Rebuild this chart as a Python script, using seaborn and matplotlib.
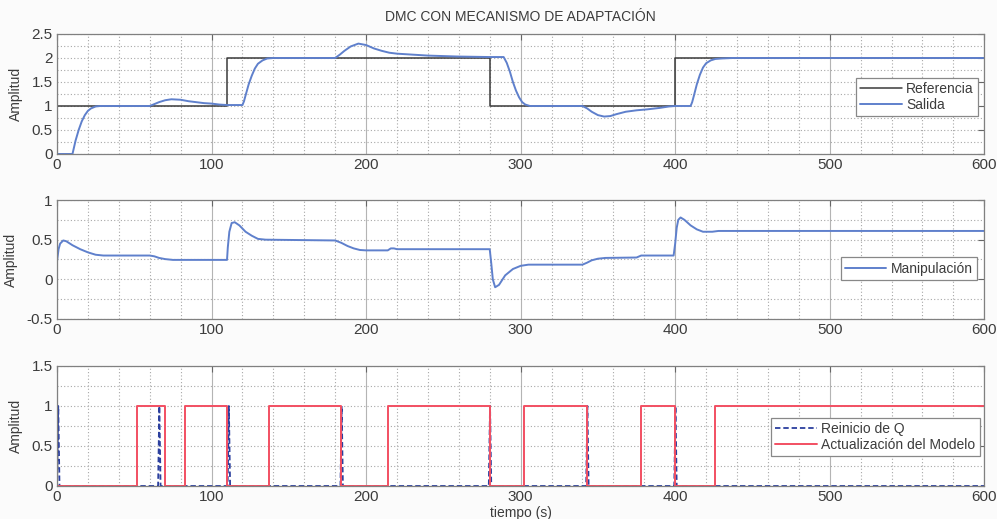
import matplotlib
matplotlib.use("Agg")
import matplotlib.pyplot as plt
import seaborn as sns
from matplotlib.ticker import MultipleLocator

# ---- data -------------------------------------------------------------
title = "DMC CON MECANISMO DE ADAPTACIÓN"

ref_t = [0, 110, 110, 280, 280, 400, 400, 600]
ref_y = [1, 1, 2, 2, 1, 1, 2, 2]

out_t = [0, 10, 12, 14, 16, 18, 20, 22, 25, 28, 32, 60, 63, 66, 70, 74, 80, 85,
         90, 95, 100, 105, 110, 120, 121, 122, 124, 126, 128, 130, 133, 136, 140,
         180, 183, 186, 190, 195, 200, 205, 210, 215, 220, 230, 240, 260, 280,
         289, 291, 293, 295, 297, 299, 301, 303, 306, 310, 340, 343, 346, 350,
         354, 358, 362, 368, 375, 382, 390, 396, 400, 410, 411, 412, 414, 416,
         418, 420, 423, 426, 430, 437, 445, 600]
out_y = [0, 0, 0.28, 0.5, 0.68, 0.81, 0.9, 0.95, 0.99, 1.0, 1.0, 1.0, 1.04,
         1.08, 1.12, 1.14, 1.13, 1.1, 1.08, 1.06, 1.05, 1.03, 1.02, 1.02, 1.1,
         1.22, 1.45, 1.63, 1.78, 1.88, 1.95, 1.99, 2.0, 2.0, 2.07, 2.15, 2.24,
         2.3, 2.27, 2.2, 2.15, 2.11, 2.09, 2.07, 2.05, 2.03, 2.02, 2.02, 1.9,
         1.72, 1.5, 1.32, 1.18, 1.08, 1.03, 1.0, 1.0, 1.0, 0.95, 0.88, 0.81,
         0.78, 0.79, 0.83, 0.88, 0.91, 0.93, 0.96, 0.99, 1.0, 1.0, 1.08, 1.2,
         1.45, 1.65, 1.8, 1.89, 1.95, 1.98, 1.99, 2.0, 2.0, 2.0]

u_t = [0, 1, 2, 4, 6, 10, 15, 20, 25, 30, 60, 63, 66, 70, 75, 110, 110.5, 111.5,
       113, 115, 118, 122, 126, 130, 135, 180, 184, 188, 192, 196, 200, 214, 216,
       218, 220, 280, 281, 282, 283.5, 286, 290, 295, 300, 305, 340, 343, 346,
       350, 355, 375, 378, 380, 399, 400, 401, 402, 403.5, 406, 410, 414, 418,
       424, 428, 432, 600]
u_y = [0.23, 0.38, 0.45, 0.49, 0.48, 0.43, 0.38, 0.34, 0.31, 0.3, 0.3, 0.29,
       0.27, 0.255, 0.245, 0.245, 0.4, 0.6, 0.71, 0.72, 0.68, 0.6, 0.55, 0.51,
       0.5, 0.49, 0.46, 0.42, 0.39, 0.37, 0.365, 0.365, 0.39, 0.39, 0.38, 0.38,
       0.2, 0.0, -0.1, -0.07, 0.05, 0.13, 0.17, 0.185, 0.185, 0.21, 0.24, 0.26,
       0.27, 0.275, 0.3, 0.3, 0.3, 0.45, 0.65, 0.75, 0.78, 0.75, 0.68, 0.63,
       0.6, 0.6, 0.61, 0.61, 0.61]

q_t = [0, 0.8, 1.6, 65.4, 66.2, 67.0, 110.4, 111.2, 112.0, 183.4, 184.2, 185.0,
       279.4, 280.2, 281.0, 342.4, 343.2, 344.0, 399.4, 400.2, 401.0, 600]
q_y = [0, 1, 0, 0, 1, 0, 0, 1, 0, 0, 1, 0, 0, 1, 0, 0, 1, 0, 0, 1, 0, 0]

m_t = [0, 52, 52, 70, 70, 83, 83, 110, 110, 137, 137, 184, 184, 214, 214, 280,
       280, 302, 302, 343, 343, 378, 378, 400, 400, 426, 426, 600]
m_y = [0, 0, 1, 1, 0, 0, 1, 1, 0, 0, 1, 1, 0, 0, 1, 1, 0, 0, 1, 1, 0, 0, 1, 1,
       0, 0, 1, 1]

x_ticks = [0, 100, 200, 300, 400, 500, 600]
y_ticks_top = [0, 0.5, 1, 1.5, 2, 2.5]
y_labels_top = ["0", "0.5", "1", "1.5", "2", "2.5"]
y_ticks_mid = [-0.5, 0, 0.5, 1]
y_labels_mid = ["-0.5", "0", "0.5", "1"]
y_ticks_bot = [0, 0.5, 1, 1.5]
y_labels_bot = ["0", "0.5", "1", "1.5"]

# ---- style ------------------------------------------------------------
sns.set_style("white")
plt.rcParams["font.family"] = ["Liberation Sans", "DejaVu Sans"]
plt.rcParams["font.size"] = 9.5
txt = "#3c3c3c"

fig = plt.figure(figsize=(9.97, 5.19), dpi=100)
fig.patch.set_facecolor("#fbfbfb")

left, width = 0.0572, 0.930
ax1 = fig.add_axes([left, 0.7033, width, 0.2312])
ax2 = fig.add_axes([left, 0.3854, width, 0.2292])
ax3 = fig.add_axes([left, 0.0636, width, 0.2312])


def style_axis(ax, yt, ylab, ylim):
    ax.set_xlim(0, 600)
    ax.set_ylim(*ylim)
    ax.set_xticks(x_ticks)
    ax.set_xticklabels([str(v) for v in x_ticks])
    ax.set_yticks(yt)
    ax.set_yticklabels(ylab)
    ax.xaxis.set_minor_locator(MultipleLocator(20))
    ax.yaxis.set_minor_locator(MultipleLocator(0.25))
    ax.grid(which="major", axis="x", color="#b4b4b4", lw=0.8, ls="-")
    ax.grid(which="major", axis="y", color="#a8a8a8", lw=0.8, ls=(0, (1, 2)))
    ax.grid(which="minor", color="#a8a8a8", lw=0.8, ls=(0, (1, 2)))
    ax.set_axisbelow(True)
    ax.tick_params(which="both", direction="in", top=True, right=True,
                   labelsize=11, colors="#666666", labelcolor=txt, pad=3)
    ax.tick_params(which="major", length=4)
    ax.tick_params(which="minor", length=0)
    for s in ax.spines.values():
        s.set_color("#808080")
        s.set_linewidth(0.9)
    ax.set_ylabel("Amplitud", fontsize=10, color=txt, labelpad=6)
    ax.set_facecolor("white")


def legend(ax, anchor):
    lg = ax.legend(loc="center right", bbox_to_anchor=anchor, fontsize=10,
                   frameon=True, fancybox=False, framealpha=1, edgecolor="#888888",
                   handlelength=3.0, handletextpad=0.3, borderpad=0.3,
                   labelspacing=0.15, borderaxespad=0)
    lg.get_frame().set_linewidth(0.9)
    for t in lg.get_texts():
        t.set_color(txt)


# Panel 1: reference and process output
sns.lineplot(x=ref_t, y=ref_y, ax=ax1, color="#3a3a3a", lw=1.1,
             estimator=None, sort=False, label="Referencia")
sns.lineplot(x=out_t, y=out_y, ax=ax1, color="#5f80cc", lw=1.4,
             estimator=None, sort=False, label="Salida")
style_axis(ax1, y_ticks_top, y_labels_top, (0, 2.5))
ax1.set_title(title, fontsize=10, color=txt, pad=9)
legend(ax1, (0.993, 0.475))

# Panel 2: control action
sns.lineplot(x=u_t, y=u_y, ax=ax2, color="#5f80cc", lw=1.4,
             estimator=None, sort=False, label="Manipulación")
style_axis(ax2, y_ticks_mid, y_labels_mid, (-0.5, 1))
legend(ax2, (0.992, 0.424))

# Panel 3: Q reset and model update flags
sns.lineplot(x=q_t, y=q_y, ax=ax3, color="#2b3f9e", lw=1.3,
             estimator=None, sort=False, label="Reinicio de Q")
ax3.lines[-1].set_linestyle((0, (3, 1.6)))
sns.lineplot(x=m_t, y=m_y, ax=ax3, color="#f24f62", lw=1.4,
             estimator=None, sort=False, label="Actualización del Modelo")
style_axis(ax3, y_ticks_bot, y_labels_bot, (0, 1.5))
ax3.set_xlabel("tiempo (s)", fontsize=10, color=txt, labelpad=1)
legend(ax3, (0.995, 0.408))

fig.savefig("out.png", dpi=100, facecolor=fig.get_facecolor())
